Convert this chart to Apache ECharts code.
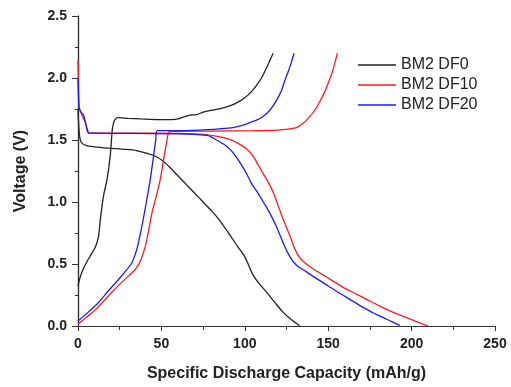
<!DOCTYPE html>
<html>
<head>
<meta charset="utf-8">
<script src="https://cdn.jsdelivr.net/npm/echarts@6/dist/echarts.min.js"></script>
<style>html,body{margin:0;padding:0;background:#fff;}#c{width:511px;height:387px;}</style>
</head>
<body>
<div id="c"></div>
<script>
const seriesNames = ['BM2 DF0', 'BM2 DF10', 'BM2 DF20'];
const xTicks = [0, 50, 100, 150, 200, 250];
const yTicks = [0.0, 0.5, 1.0, 1.5, 2.0, 2.5];

// BM2 DF0
const df0Discharge = [[0,1.74],[0.8,1.55],[2,1.48],[5,1.455],[10,1.445],[18,1.435],[28,1.425],[35,1.415],[42,1.39],[47,1.365],[51,1.33],[55,1.28],[60,1.21],[65,1.14],[70,1.07],[75,1.0],[80,0.93],[85,0.85],[90,0.755],[95,0.655],[99.5,0.57],[102,0.50],[105,0.41],[109,0.335],[113,0.275],[118,0.19],[123,0.11],[128,0.05],[133,0.0]];
const df0Charge = [[0,0.32],[1,0.38],[2.5,0.44],[5,0.51],[8,0.58],[10.5,0.64],[12.3,0.72],[13.4,0.86],[15.3,1.05],[17.4,1.18],[19.3,1.37],[20.7,1.60],[22,1.66],[24,1.68],[30,1.675],[38,1.67],[50,1.665],[56,1.665],[60,1.67],[63,1.685],[67,1.70],[71,1.705],[75,1.725],[80,1.74],[86,1.755],[91,1.775],[96,1.805],[100,1.84],[104,1.89],[107,1.94],[110,2.0],[113,2.08],[115,2.14],[117,2.20]];

// BM2 DF10
const df10Discharge = [[0,2.15],[0.3,1.95],[0.6,1.77],[2.4,1.70],[4.4,1.64],[6.3,1.56],[8,1.555],[30,1.555],[60,1.553],[75,1.545],[85,1.525],[91,1.505],[97,1.465],[101,1.43],[105,1.37],[108,1.30],[111,1.23],[114,1.16],[117,1.08],[120,0.97],[123,0.86],[127,0.73],[130,0.62],[133,0.55],[136,0.51],[140,0.47],[146,0.42],[152,0.37],[158,0.32],[165,0.27],[173,0.215],[181,0.16],[189,0.11],[197,0.068],[204,0.03],[210,0.0]];
const df10Charge = [[0,0.015],[5,0.07],[10.4,0.13],[16,0.21],[22.3,0.30],[30,0.40],[34,0.45],[37.3,0.52],[40.3,0.64],[42.5,0.78],[44.3,0.91],[47,1.05],[49.3,1.18],[51.3,1.34],[53,1.47],[54.5,1.565],[57,1.57],[80,1.572],[105,1.575],[120,1.58],[127,1.59],[131,1.60],[135,1.635],[139,1.69],[142,1.74],[145,1.81],[148,1.89],[150,1.96],[152,2.03],[154,2.12],[155.5,2.20]];

// BM2 DF20
const df20Discharge = [[0,2.0],[0.3,1.85],[0.6,1.76],[2,1.72],[3.4,1.70],[4.8,1.62],[6,1.56],[8,1.555],[30,1.553],[60,1.55],[70,1.545],[78,1.535],[83,1.50],[88,1.46],[91.5,1.42],[95,1.36],[98,1.30],[101,1.23],[104,1.15],[108,1.07],[112,0.98],[115,0.91],[119,0.80],[123,0.67],[127,0.56],[131,0.49],[136,0.445],[141,0.40],[148,0.34],[155,0.28],[163,0.215],[171,0.15],[177,0.105],[183,0.068],[188,0.035],[193,0.005]];
const df20Charge = [[0,0.04],[6,0.11],[12.3,0.19],[18,0.28],[24.3,0.375],[29,0.45],[32.3,0.51],[35.3,0.62],[37,0.72],[38.8,0.84],[41,1.0],[43.3,1.18],[45.3,1.37],[46.6,1.50],[47.5,1.575],[55,1.575],[73,1.58],[85,1.59],[93,1.60],[99,1.62],[103,1.64],[107,1.66],[111,1.69],[115,1.74],[119,1.82],[122,1.90],[124,1.98],[126,2.05],[128,2.13],[129.5,2.20]];

const colors = ['#222222', '#ff1a1a', '#1a1aff'];
const FONT = '"Liberation Sans", Arial, sans-serif';

function mk(name, data, color) {
  return {
    name: name, type: 'line', data: data, symbol: 'none', showSymbol: false,
    smooth: 0.25, lineStyle: { color: color, width: 1.3 }, itemStyle: { color: color },
    animation: false, xAxisIndex: 0, yAxisIndex: 0, z: 3
  };
}

const chart = echarts.init(document.getElementById('c'));
const axisLine = { show: true, lineStyle: { color: '#333', width: 1.2 } };
chart.setOption({
  backgroundColor: '#fff',
  animation: false,
  grid: { left: 78, right: 16, top: 16, bottom: 60 },
  legend: {
    data: seriesNames.map((n, i) => ({ name: n, icon: 'rect', itemStyle: { color: colors[i] } })),
    orient: 'vertical', left: 353, top: 50,
    itemWidth: 38, itemHeight: 1.5, itemGap: 0,
    textStyle: { fontFamily: FONT, fontSize: 16, color: '#222', lineHeight: 20, padding: [0, 0, 0, 0] }
  },
  xAxis: [
    {
      type: 'value', position: 'bottom', min: xTicks[0], max: xTicks[xTicks.length - 1], interval: 50,
      axisLine: axisLine,
      axisTick: { show: true, inside: false, length: 5, lineStyle: { color: '#333' } },
      minorTick: { show: true, splitNumber: 2, length: 3, lineStyle: { color: '#333' } },
      splitLine: { show: false },
      axisLabel: { fontFamily: FONT, fontWeight: 'bold', fontSize: 14, color: '#222', margin: 11 },
      name: 'Specific Discharge Capacity (mAh/g)', nameLocation: 'middle', nameGap: 40,
      nameTextStyle: { fontFamily: FONT, fontWeight: 'bold', fontSize: 16, color: '#222' }
    },
    {
      type: 'value', position: 'top', min: 0, max: 250, interval: 50,
      axisLine: axisLine,
      axisTick: { show: true, inside: true, length: 4, lineStyle: { color: '#333' } },
      minorTick: { show: true, splitNumber: 2, length: 4, lineStyle: { color: '#333' } },
      splitLine: { show: false }, axisLabel: { show: false }
    }
  ],
  yAxis: [
    {
      type: 'value', position: 'left', min: yTicks[0], max: yTicks[yTicks.length - 1], interval: 0.5,
      axisLine: axisLine,
      axisTick: { show: true, inside: false, length: 6, lineStyle: { color: '#333' } },
      minorTick: { show: true, splitNumber: 2, length: 3, lineStyle: { color: '#333' } },
      splitLine: { show: false },
      axisLabel: { fontFamily: FONT, fontWeight: 'bold', fontSize: 14, color: '#222', margin: 11,
        formatter: v => v.toFixed(1) },
      name: 'Voltage (V)', nameLocation: 'middle', nameGap: 49,
      nameTextStyle: { fontFamily: FONT, fontWeight: 'bold', fontSize: 16, color: '#222' }
    },
    {
      type: 'value', position: 'right', min: 0, max: 2.5, interval: 0.5,
      axisLine: axisLine,
      axisTick: { show: true, inside: true, length: 5, lineStyle: { color: '#333' } },
      minorTick: { show: true, splitNumber: 2, length: 3, lineStyle: { color: '#333' } },
      splitLine: { show: false }, axisLabel: { show: false }
    }
  ],
  series: [
    mk(seriesNames[0], df0Discharge, colors[0]),
    mk(seriesNames[0], df0Charge, colors[0]),
    mk(seriesNames[1], df10Discharge, colors[1]),
    mk(seriesNames[1], df10Charge, colors[1]),
    mk(seriesNames[2], df20Discharge, colors[2]),
    mk(seriesNames[2], df20Charge, colors[2])
  ]
});
</script>
</body>
</html>
